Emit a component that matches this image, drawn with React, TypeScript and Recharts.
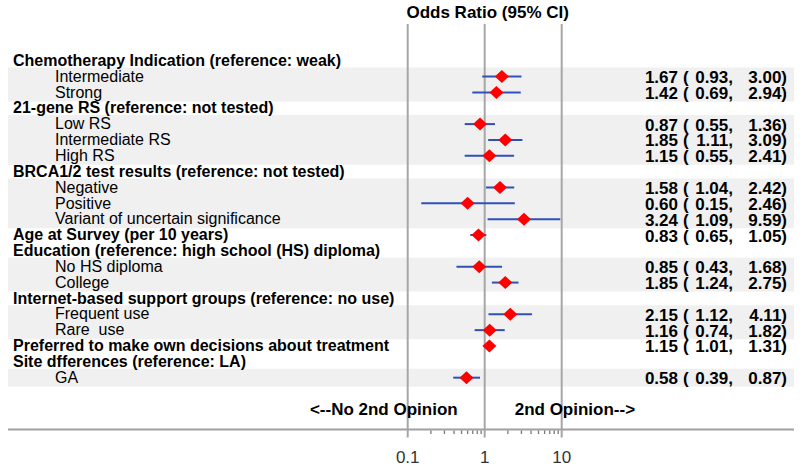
import React from 'react';
import {
  ScatterChart,
  Scatter,
  XAxis,
  YAxis,
  ReferenceArea,
  ReferenceLine,
  ReferenceDot,
  ErrorBar,
} from 'recharts';

const FONT = '"Liberation Sans", Arial, Helvetica, sans-serif';

// ---------- data ----------
const rowLabels = [
  'Chemotherapy Indication (reference: weak)',
  'Intermediate',
  'Strong',
  '21-gene RS (reference: not tested)',
  'Low RS',
  'Intermediate RS',
  'High RS',
  'BRCA1/2 test results (reference: not tested)',
  'Negative',
  'Positive',
  'Variant of uncertain significance',
  'Age at Survey (per 10 years)',
  'Education (reference: high school (HS) diploma)',
  'No HS diploma',
  'College',
  'Internet-based support groups (reference: no use)',
  'Frequent use',
  'Rare  use',
  'Preferred to make own decisions about treatment',
  'Site dfferences (reference: LA)',
  'GA',
];

const headerRows = [0, 3, 7, 11, 12, 15, 18, 19];

const orValues: (number | null)[] = [
  null, 1.67, 1.42, null, 0.87, 1.85, 1.15, null, 1.58, 0.6, 3.24, 0.83, null, 0.85, 1.85, null, 2.15, 1.16, 1.15, null, 0.58,
];
const lowerCI: (number | null)[] = [
  null, 0.93, 0.69, null, 0.55, 1.11, 0.55, null, 1.04, 0.15, 1.09, 0.65, null, 0.43, 1.24, null, 1.12, 0.74, 1.01, null, 0.39,
];
const upperCI: (number | null)[] = [
  null, 3.0, 2.94, null, 1.36, 3.09, 2.41, null, 2.42, 2.46, 9.59, 1.05, null, 1.68, 2.75, null, 4.11, 1.82, 1.31, null, 0.87,
];

const bandGroups: [number, number][] = [
  [1, 2],
  [4, 6],
  [8, 10],
  [13, 14],
  [16, 17],
  [20, 20],
];

const majorTicks = [0.1, 1, 10];
const minorTicks = [0.2, 0.3, 0.4, 0.5, 0.6, 0.7, 0.8, 0.9, 2, 3, 4, 5, 6, 7, 8, 9];

const leftText = '<--No 2nd Opinion';
const rightText = '2nd Opinion-->';
const titleText = 'Odds Ratio (95% CI)';
const opinionRow = 22;

// ---------- derived ----------
const pointData = orValues
  .map((v, i) =>
    v == null
      ? null
      : {
          row: i,
          or: v,
          err: [v - (lowerCI[i] as number), (upperCI[i] as number) - v],
        }
  )
  .filter(Boolean) as { row: number; or: number; err: number[] }[];

const dataRows = pointData.map((d) => d.row);
const allRows = rowLabels.map((_, i) => i);
const allXTicks = [...majorTicks, ...minorTicks].sort((a, b) => a - b);

const X_DOMAIN = [Math.pow(10, -6.191), Math.pow(10, 4.017)];
const Y_DOMAIN = [-2.315, 23.27];

const fmt = (v: number | null) => (v == null ? '' : v.toFixed(2));

const LeftTick = (props: any) => {
  const { x, y, payload } = props;
  const i = payload.value as number;
  const isHeader = headerRows.includes(i);
  return (
    <text
      x={x + (isHeader ? 5 : 47)}
      y={y + 5.2}
      fontFamily={FONT}
      fontSize={16}
      fontWeight={isHeader ? 'bold' : 'normal'}
      fill="#000"
      textAnchor="start"
      style={{ whiteSpace: 'pre' }}
    >
      {rowLabels[i]}
    </text>
  );
};

const RightTick = (props: any) => {
  const { x, y, payload } = props;
  const i = payload.value as number;
  if (orValues[i] == null) return <g />;
  const common = {
    fontFamily: FONT,
    fontSize: 17,
    fontWeight: 'bold' as const,
    fill: '#000',
    y: y + 6.5,
  };
  return (
    <g>
      <text {...common} x={x - 116} textAnchor="end">
        {fmt(orValues[i])}
      </text>
      <text {...common} x={x - 111} textAnchor="start">
        (
      </text>
      <text {...common} x={x - 61} textAnchor="end">
        {fmt(lowerCI[i]) + ','}
      </text>
      <text {...common} x={x - 7} textAnchor="end">
        {fmt(upperCI[i]) + ')'}
      </text>
    </g>
  );
};

const XTick = (props: any) => {
  const { x, y, payload } = props;
  const v = payload.value as number;
  if (majorTicks.includes(v)) {
    return (
      <g>
        <line x1={x} x2={x} y1={y} y2={y + 8} stroke="#a6a6a6" strokeWidth={2} />
        <text x={x} y={y + 33} textAnchor="middle" fontFamily={FONT} fontSize={17} fill="#333">
          {String(v)}
        </text>
      </g>
    );
  }
  return <line x1={x} x2={x} y1={y + 1} y2={y + 4.5} stroke="#777" strokeWidth={1.3} />;
};

const Diamond = (props: any) => {
  const { cx, cy } = props;
  if (cx == null || cy == null) return <g />;
  return (
    <polygon
      points={`${cx},${cy - 6.5} ${cx + 7},${cy} ${cx},${cy + 6.5} ${cx - 7},${cy}`}
      fill="#ff0000"
      stroke="none"
    />
  );
};

const OpinionShape = (props: any) => {
  const { cx, cy } = props;
  const common = { fontFamily: FONT, fontSize: 17, fontWeight: 'bold' as const, fill: '#000', y: cy + 6 };
  return (
    <g>
      <text {...common} x={cx - 27} textAnchor="end">
        {leftText}
      </text>
      <text {...common} x={cx + 30} textAnchor="start">
        {rightText}
      </text>
    </g>
  );
};

export default function App() {
  return (
    <div style={{ position: 'absolute', left: 0, top: 0, width: 800, height: 473, background: '#fff' }}>
      <ScatterChart width={800} height={473} margin={{ top: 24, right: 5, bottom: 13.5, left: 7 }}>
        <XAxis
          dataKey="or"
          type="number"
          scale="log"
          domain={X_DOMAIN}
          allowDataOverflow
          ticks={allXTicks}
          interval={0}
          tick={<XTick />}
          tickLine={false}
          tickSize={0}
          tickMargin={0}
          height={30}
          axisLine={{ stroke: '#a0a0a0', strokeWidth: 2 }}
        />
        <YAxis
          yAxisId="l"
          dataKey="row"
          type="number"
          domain={Y_DOMAIN}
          reversed
          allowDataOverflow
          ticks={allRows}
          interval={0}
          tick={<LeftTick />}
          tickLine={false}
          axisLine={false}
          tickSize={0}
          tickMargin={0}
          width={1}
        />
        <YAxis
          yAxisId="r"
          orientation="right"
          type="number"
          domain={Y_DOMAIN}
          reversed
          allowDataOverflow
          ticks={dataRows}
          interval={0}
          tick={<RightTick />}
          tickLine={false}
          axisLine={false}
          tickSize={0}
          tickMargin={0}
          width={1}
        />
        {bandGroups.map(([a, b]) => (
          <ReferenceArea
            key={`band-${a}`}
            yAxisId="l"
            y1={a - 0.57}
            y2={b + 0.57}
            fill="#f0f0f0"
            fillOpacity={1}
            stroke="none"
          />
        ))}
        {majorTicks.map((t) => (
          <ReferenceLine
            key={`ref-${t}`}
            yAxisId="l"
            x={t}
            stroke="#a6a6a6"
            strokeWidth={2}
            label={
              t === 1
                ? {
                    value: titleText,
                    position: 'top',
                    offset: 6.5,
                    dx: 3,
                    fontSize: 17,
                    fontWeight: 'bold',
                    fill: '#000',
                    fontFamily: FONT,
                  }
                : undefined
            }
          />
        ))}
        <ReferenceDot yAxisId="l" x={1} y={opinionRow} r={0} shape={<OpinionShape />} />
        <Scatter
          yAxisId="l"
          data={pointData}
          dataKey="or"
          shape={<Diamond />}
          isAnimationActive={false}
        >
          <ErrorBar dataKey="err" direction="x" width={0} stroke="#3050b8" strokeWidth={2} isAnimationActive={false} />
        </Scatter>
      </ScatterChart>
    </div>
  );
}
